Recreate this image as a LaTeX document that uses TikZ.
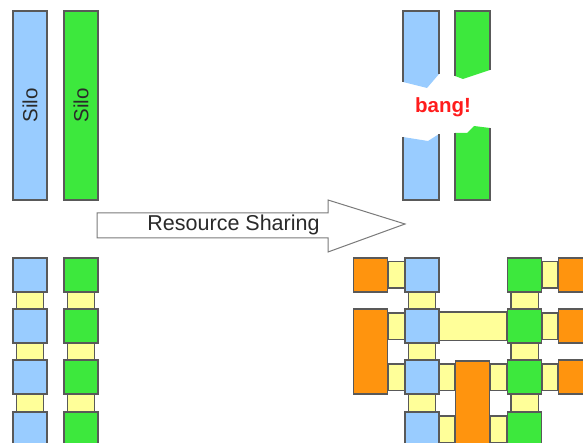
\documentclass[tikz,border=0pt]{standalone}
\usepackage{fontspec}
\setmainfont{Liberation Sans}
\usetikzlibrary{calc,backgrounds}
\definecolor{siloblue}{HTML}{99CCFF}
\definecolor{silogreen}{HTML}{3DE83D}
\definecolor{linkyellow}{HTML}{FFFF99}
\definecolor{resorange}{HTML}{FF940E}
\definecolor{edgegray}{HTML}{595959}
\definecolor{labelgray}{HTML}{2A2A2A}
\definecolor{bangred}{HTML}{FF1C1C}

\begin{document}
\begin{tikzpicture}[x=1pt,y=-1pt,
  cell/.style={draw=edgegray, line width=1.1pt, inner sep=0pt,
               minimum width=34pt, minimum height=34pt},
  bluecell/.style={cell, fill=siloblue},
  greencell/.style={cell, fill=silogreen},
  orangecell/.style={cell, fill=resorange},
  silobar/.style={cell, rotate=90, minimum width=189pt, minimum height=34pt,
                  font=\fontsize{20.5}{24}\selectfont, text=labelgray},
  link/.style={draw=edgegray, line width=1.1pt, fill=linkyellow},
  caption/.style={font=\fontsize{21.5}{25}\selectfont, text=labelgray, inner sep=0pt},
  shard/.style={line width=1.1pt, draw=edgegray},
]
\useasboundingbox (0,0) rectangle (583,443);
\clip (0,0) rectangle (583,443);

% ---- two separate silos ----
\node[silobar, fill=siloblue]  (siloA) at (30,105.5) {Silo};
\node[silobar, fill=silogreen] (siloB) at (81,105.5) {Silo};

% ---- silos broken apart by sharing ----
\fill[siloblue] (403,11) -- (439,11) -- (439,74) -- (427,88) -- (403,82) -- cycle;
\draw[shard] (403,82) -- (403,11) -- (439,11) -- (439,74);
\fill[siloblue] (403,137) -- (428,141) -- (439,134) -- (439,200) -- (403,200) -- cycle;
\draw[shard] (403,137) -- (403,200) -- (439,200) -- (439,134);
\fill[silogreen] (455,11) -- (490,11) -- (490,70) -- (463,79) -- (455,76) -- cycle;
\draw[shard] (455,76) -- (455,11) -- (490,11) -- (490,70);
\fill[silogreen] (455,133) -- (467,133) -- (474,126) -- (490,128) -- (490,200) -- (455,200) -- cycle;
\draw[shard] (455,133) -- (455,200) -- (490,200) -- (490,128);
\node[caption, text=bangred, font=\fontsize{20.5}{24}\selectfont\bfseries, anchor=base]
  (bang) at (443,113) {bang!};

% ---- transition arrow ----
\draw[line width=1pt, draw=edgegray!80, fill=white]
  (97,213) -- (328,213) -- (328,200) -- (405,224) -- (328,252) -- (328,238) -- (97,238) -- cycle;
\node[caption, anchor=base] (share) at (233.5,231) {Resource Sharing};

% ---- isolated chains ----
\foreach \r/\y in {1/275,2/326,3/377,4/429} {
  \node[bluecell]  (lb\r) at (30,\y) {};
  \node[greencell] (lg\r) at (81,\y) {};
}

% ---- shared grid ----
\foreach \r/\y in {1/275,2/326,3/377,4/429} {
  \node[bluecell]  (b\r) at (422,\y) {};
  \node[greencell] (g\r) at (524.5,\y) {};
}
\node[orangecell] (oL1) at (370.5,275) {};
\node[orangecell, minimum height=85pt] (oL2) at (370.5,351.5) {};
\node[orangecell, minimum height=110pt] (oC) at (472.5,416) {};
\foreach \r/\y in {1/275,2/326,3/377} {
  \node[orangecell] (oR\r) at (575.5,\y) {};
}

\begin{scope}[on background layer]
  % vertical links inside each column
  \foreach \c in {lb,lg,b,g} {
    \foreach \a/\b in {1/2,2/3,3/4} {
      \draw[link] ($(\c\a.south west)+(4,0)$) rectangle ($(\c\b.north east)+(-4,0)$);
    }
  }
  % horizontal links
  \draw[link] ($(oL1.north east)+(0,4.5)$) rectangle ($(b1.south west)+(0,-4.5)$);
  \draw[link] ($(oL2.east |- b2.north)+(0,4.5)$) rectangle ($(b2.south west)+(0,-4.5)$);
  \draw[link] ($(oL2.east |- b3.north)+(0,4.5)$) rectangle ($(b3.south west)+(0,-4.5)$);
  \draw[link] ($(b2.north east)+(0,3.5)$) rectangle ($(g2.south west)+(0,-3.5)$);
  \foreach \r in {3,4} {
    \draw[link] ($(b\r.north east)+(0,4.5)$) rectangle ($(oC.west |- b\r.south)+(0,-4.5)$);
    \draw[link] ($(oC.east |- g\r.north)+(0,4.5)$) rectangle ($(g\r.south west)+(0,-4.5)$);
  }
  \foreach \r in {1,2,3} {
    \draw[link] ($(g\r.north east)+(0,4.5)$) rectangle ($(oR\r.south west)+(0,-4.5)$);
  }
\end{scope}
\end{tikzpicture}
\end{document}
